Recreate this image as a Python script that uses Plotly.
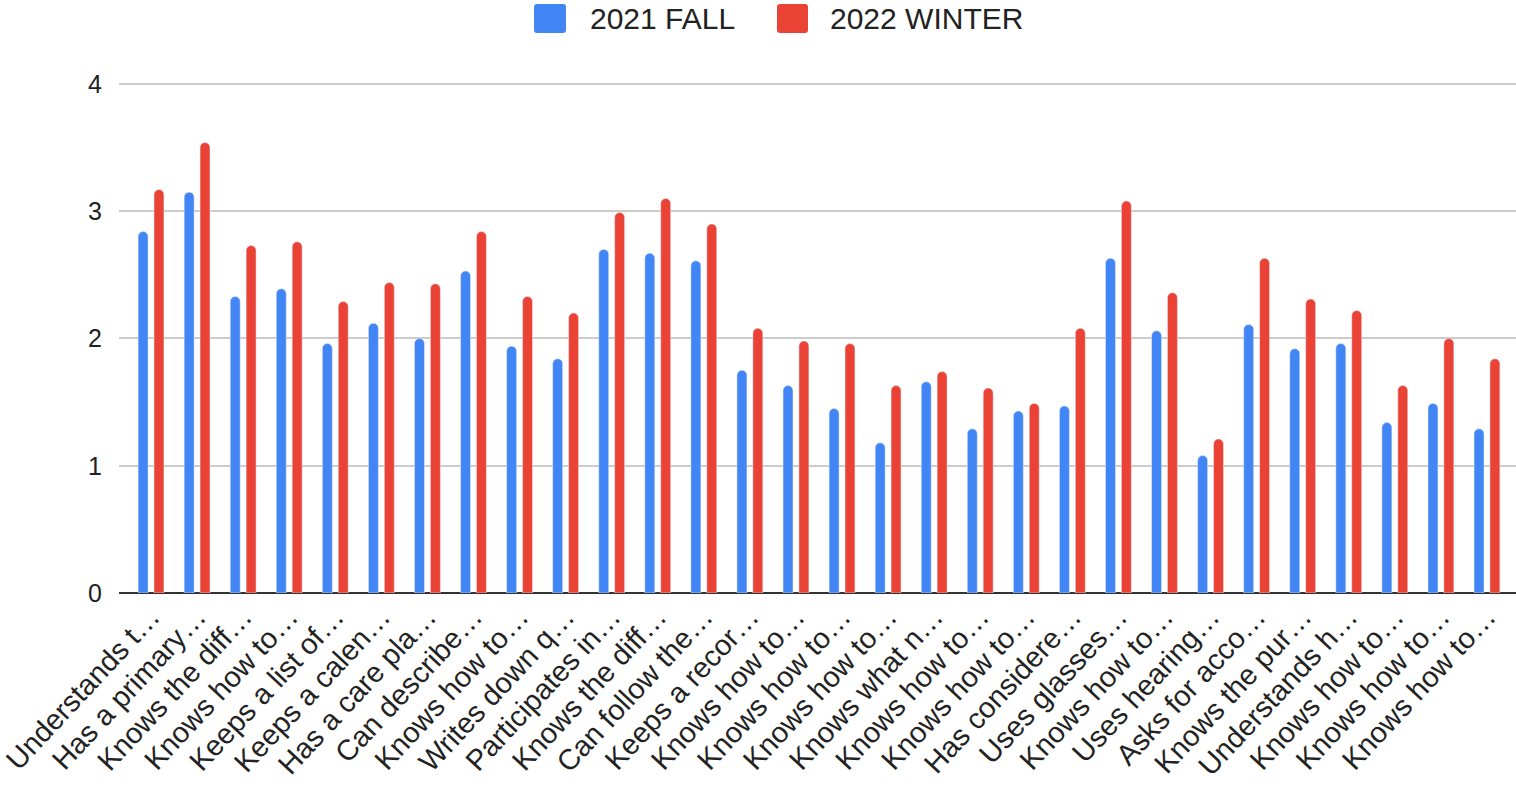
import plotly.graph_objects as go

labels = [
    "Understands t…", "Has a primary…", "Knows the diff…", "Knows how to…",
    "Keeps a list of…", "Keeps a calen…", "Has a care pla…", "Can describe…",
    "Knows how to…", "Writes down q…", "Participates in…", "Knows the diff…",
    "Can follow the…", "Keeps a recor…", "Knows how to…", "Knows how to…",
    "Knows how to…", "Knows what n…", "Knows how to…", "Knows how to…",
    "Has considere…", "Uses glasses…", "Knows how to…", "Uses hearing…",
    "Asks for acco…", "Knows the pur…", "Understands h…", "Knows how to…",
    "Knows how to…", "Knows how to…",
]

fall_2021 = [2.84, 3.15, 2.33, 2.39, 1.96, 2.12, 2.00, 2.53, 1.94, 1.84,
             2.70, 2.67, 2.61, 1.75, 1.63, 1.45, 1.18, 1.66, 1.29, 1.43,
             1.47, 2.63, 2.06, 1.08, 2.11, 1.92, 1.96, 1.34, 1.49, 1.29]

winter_2022 = [3.17, 3.54, 2.73, 2.76, 2.29, 2.44, 2.43, 2.84, 2.33, 2.20,
               2.99, 3.10, 2.90, 2.08, 1.98, 1.96, 1.63, 1.74, 1.61, 1.49,
               2.08, 3.08, 2.36, 1.21, 2.63, 2.31, 2.22, 1.63, 2.00, 1.84]

series_names = ["2021 FALL", "2022 WINTER"]
y_ticks = [0, 1, 2, 3, 4]

BLUE = "#4285F4"
RED = "#EA4335"
FONT = "Liberation Sans, Arial, Helvetica, sans-serif"
TEXT = "#222222"

W, H = 1516, 787
ML, MR, MT, MB = 119, 0, 78, 194
PW, PH = W - ML - MR, H - MT - MB


def px_x(px):
    return (px - ML) / PW


def px_y(py):
    return (H - MB - py) / PH


def rounded_rect(x0, y0, x1, y1, r):
    """SVG path in paper coords for a pixel-specified rounded rectangle."""
    X = px_x
    Y = px_y
    return (f"M {X(x0 + r)},{Y(y0)} L {X(x1 - r)},{Y(y0)} "
            f"Q {X(x1)},{Y(y0)} {X(x1)},{Y(y0 + r)} "
            f"L {X(x1)},{Y(y1 - r)} Q {X(x1)},{Y(y1)} {X(x1 - r)},{Y(y1)} "
            f"L {X(x0 + r)},{Y(y1)} Q {X(x0)},{Y(y1)} {X(x0)},{Y(y1 - r)} "
            f"L {X(x0)},{Y(y0 + r)} Q {X(x0)},{Y(y0)} {X(x0 + r)},{Y(y0)} Z")


xs = list(range(len(labels)))

fig = go.Figure()
fig.add_trace(go.Bar(x=xs, y=fall_2021, name=series_names[0],
                     marker_color=BLUE, showlegend=False))
fig.add_trace(go.Bar(x=xs, y=winter_2022, name=series_names[1],
                     marker_color=RED, showlegend=False))

# manual legend (large rounded swatches like the original)
legend_items = [(534, 566, 588, BLUE, series_names[0]),
                (777, 808, 828, RED, series_names[1])]
for sx0, sx1, tx, col, name in legend_items:
    fig.add_shape(type="path", xref="paper", yref="paper",
                  path=rounded_rect(sx0, 4, sx1, 33, 3),
                  fillcolor=col, line=dict(width=0), layer="above")
    fig.add_annotation(xref="paper", yref="paper", x=px_x(tx), y=px_y(18.5),
                       xanchor="left", yanchor="middle", text=name,
                       showarrow=False, font=dict(size=30, color=TEXT))

fig.update_layout(
    width=W, height=H,
    margin=dict(l=ML, r=MR, t=MT, b=MB, autoexpand=False),
    paper_bgcolor="white", plot_bgcolor="white",
    font=dict(family=FONT, color=TEXT),
    barmode="group", bargap=0.31, bargroupgap=0.375, barcornerradius=5,
    showlegend=False,
    xaxis=dict(range=[-0.695, 29.63], tickmode="array", tickvals=xs,
               ticktext=labels, tickangle=-47, tickfont=dict(size=29),
               ticklabeloverflow="allow",
               showgrid=False, zeroline=False, showline=False, ticks=""),
    yaxis=dict(range=[0, 4.047], tickvals=y_ticks, tickfont=dict(size=25),
               showgrid=True, gridcolor="#CCCCCC", gridwidth=2,
               zeroline=True, zerolinecolor="#333333", zerolinewidth=2,
               ticks="", ticklabelstandoff=16),
)

fig.write_html("out.html", config={"displayModeBar": False},
               post_script="document.body.style.margin='0px';")
